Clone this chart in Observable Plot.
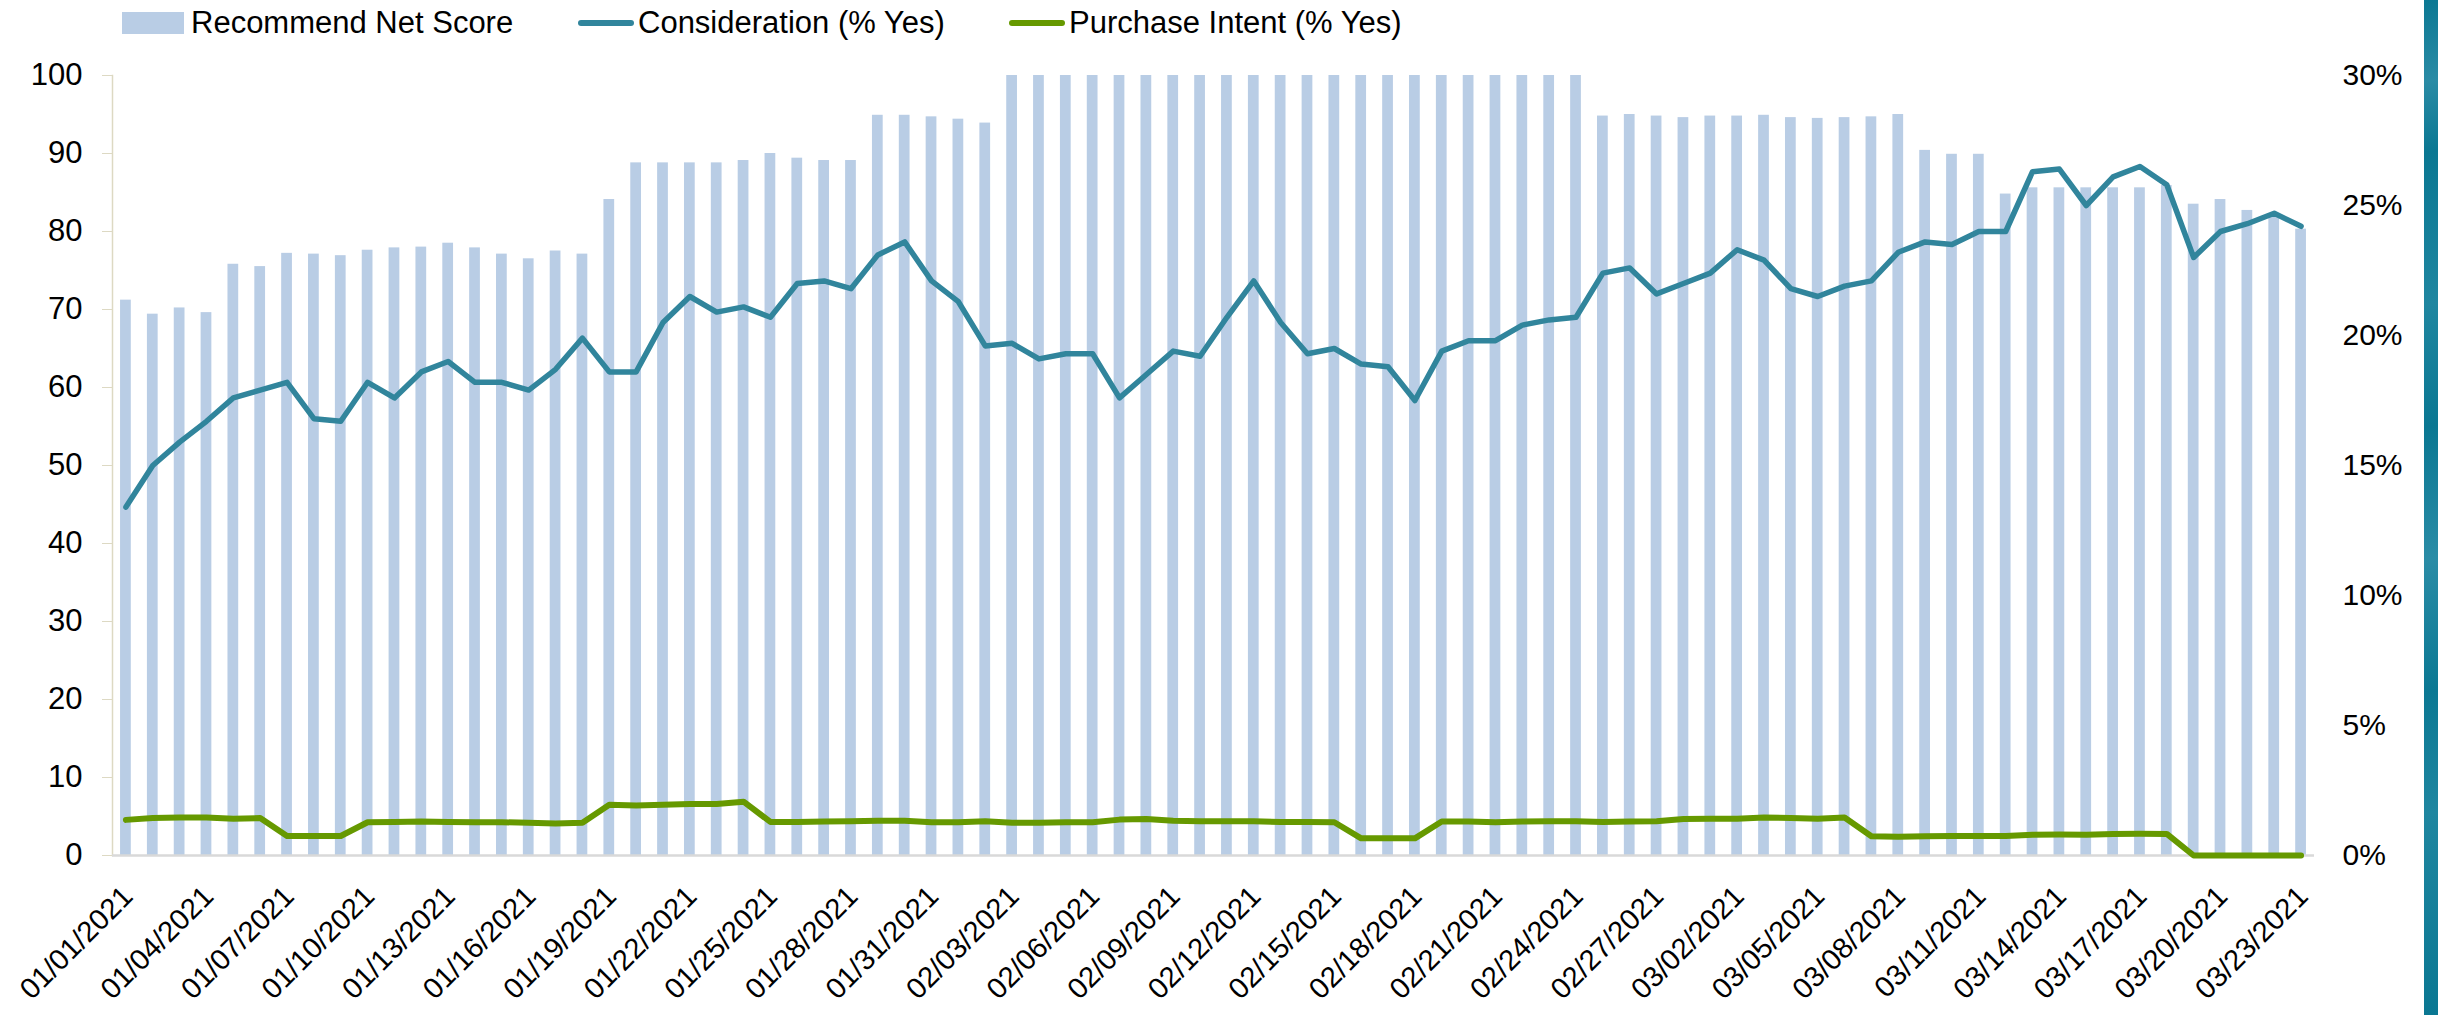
<!DOCTYPE html>
<html><head><meta charset="utf-8">
<script src="https://cdn.jsdelivr.net/npm/d3@7"></script>
<script src="https://cdn.jsdelivr.net/npm/@observablehq/plot@0.6"></script>
<style>
body{margin:0;background:#fff;font-family:"Liberation Sans",Arial,sans-serif;width:2438px;height:1015px;overflow:hidden;position:relative}
#legend{position:relative;height:45px;margin-bottom:-15px;z-index:2}
.item{position:absolute;top:0;height:45px;display:flex;align-items:center;font-size:31px;color:#000;white-space:nowrap}
.sw-bar{width:62px;height:22px;background:#B9CDE5;margin-right:7px}
.sw-line{width:56px;height:6px;border-radius:3px;margin-right:4px}
#strip{position:absolute;left:2424px;top:0;width:14px;height:1015px;
background:linear-gradient(170deg,#0b7893 0%,#2a8ba5 8%,#0a7792 15%,#1f86a0 30%,#0a7792 42%,#2a8ca6 55%,#0b7893 68%,#1f86a0 80%,#0a7792 100%)}
#chart svg{display:block}
</style></head>
<body>
<div id="legend">
  <div class="item" style="left:122px"><div class="sw-bar"></div>Recommend Net Score</div>
  <div class="item" style="left:578px"><div class="sw-line" style="background:#31859C"></div>Consideration (% Yes)</div>
  <div class="item" style="left:1009px"><div class="sw-line" style="background:#669900"></div>Purchase Intent (% Yes)</div>
</div>
<div id="chart"></div>
<div id="strip"></div>
<script>
// Dates 01/01/2021 .. 03/23/2021 (82 daily categories)
const dates = d3.utcDays(new Date(Date.UTC(2021,0,1)), new Date(Date.UTC(2021,2,24))).map(d3.utcFormat("%m/%d/%Y"));

// Recommend Net Score (left axis)
const recommend = [
  71.2, 69.4, 70.2, 69.6, 75.8, 75.5, 77.2, 77.1, 76.9, 77.6,
  77.9, 78.0, 78.5, 77.9, 77.1, 76.5, 77.5, 77.1, 84.1, 88.8,
  88.8, 88.8, 88.8, 89.1, 90.0, 89.4, 89.1, 89.1, 94.9, 94.9,
  94.7, 94.4, 93.9, 100, 100, 100, 100, 100, 100, 100,
  100, 100, 100, 100, 100, 100, 100, 100, 100, 100,
  100, 100, 100, 100, 100, 94.8, 95.0, 94.8, 94.6, 94.8,
  94.8, 94.9, 94.6, 94.5, 94.6, 94.7, 95.0, 90.4, 89.9, 89.9,
  84.8, 85.6, 85.6, 85.6, 85.6, 85.6, 85.9, 83.5, 84.1, 82.7,
  81.8, 80.3
];

// Consideration (% Yes) (right axis, percent)
const consideration = [
  13.4, 15.0, 15.9, 16.7, 17.6, 17.9, 18.2, 16.8, 16.7, 18.2,
  17.6, 18.6, 19.0, 18.2, 18.2, 17.9, 18.7, 19.9, 18.6, 18.6,
  20.5, 21.5, 20.9, 21.1, 20.7, 22.0, 22.1, 21.8, 23.1, 23.6,
  22.1, 21.3, 19.6, 19.7, 19.1, 19.3, 19.3, 17.6, 18.5, 19.4,
  19.2, 20.7, 22.1, 20.5, 19.3, 19.5, 18.9, 18.8, 17.5, 19.4,
  19.8, 19.8, 20.4, 20.6, 20.7, 22.4, 22.6, 21.6, 22.0, 22.4,
  23.3, 22.9, 21.8, 21.5, 21.9, 22.1, 23.2, 23.6, 23.5, 24.0,
  24.0, 26.3, 26.4, 25.0, 26.1, 26.5, 25.8, 23.0, 24.0, 24.3,
  24.7, 24.2
];

// Purchase Intent (% Yes) (right axis, percent)
const purchase = [
  1.37, 1.44, 1.46, 1.46, 1.41, 1.44, 0.75, 0.75, 0.75, 1.28,
  1.29, 1.31, 1.29, 1.28, 1.28, 1.26, 1.23, 1.26, 1.95, 1.92,
  1.95, 1.98, 1.98, 2.07, 1.29, 1.29, 1.31, 1.32, 1.34, 1.34,
  1.28, 1.28, 1.32, 1.26, 1.26, 1.28, 1.28, 1.38, 1.40, 1.34,
  1.32, 1.32, 1.32, 1.29, 1.29, 1.28, 0.66, 0.66, 0.66, 1.31,
  1.31, 1.28, 1.31, 1.32, 1.32, 1.29, 1.31, 1.32, 1.40, 1.41,
  1.41, 1.46, 1.44, 1.41, 1.46, 0.74, 0.72, 0.74, 0.75, 0.75,
  0.75, 0.80, 0.81, 0.80, 0.83, 0.84, 0.83, 0, 0, 0,
  0, 0
];

const leftTicks = [0, 10, 20, 30, 40, 50, 60, 70, 80, 90, 100];
const rightTicks = [0, 5, 10, 15, 20, 25, 30]; // percent
const xTicks = dates.filter((d, i) => i % 3 === 0);

const pctToLeft = p => p * 100 / 30;
const data = dates.map((d, i) => ({date: d, rec: recommend[i], con: consideration[i], pi: purchase[i]}));

const chart = Plot.plot({
  width: 2438,
  height: 985,
  marginLeft: 112,
  marginRight: 124,
  marginTop: 45,
  marginBottom: 160,
  style: {fontFamily: "Liberation Sans, Arial, sans-serif", background: "transparent", color: "black"},
  x: {type: "band", domain: dates, paddingInner: 0.6, paddingOuter: 0.3, label: null},
  y: {domain: [0, 100], label: null},
  marks: [
    Plot.barY(data, {x: "date", y: "rec", fill: "#B9CDE5"}),
    Plot.frame({anchor: "left", stroke: "#DDD9C3", strokeWidth: 1.5}),
    Plot.ruleY([0], {stroke: "#D9D9D9", strokeWidth: 2.5}),
    Plot.line(data, {x: "date", y: d => pctToLeft(d.con), stroke: "#31859C", strokeWidth: 5.5, strokeLinejoin: "round", strokeLinecap: "round"}),
    Plot.line(data, {x: "date", y: d => pctToLeft(d.pi), stroke: "#669900", strokeWidth: 6, strokeLinejoin: "round", strokeLinecap: "round"}),
    Plot.axisY({anchor: "left", ticks: leftTicks, tickSize: 10, tickPadding: 20, fontSize: 31, stroke: "#DDD9C3", fill: "black", label: null}),
    Plot.axisY({anchor: "right", ticks: rightTicks.map(pctToLeft), tickFormat: v => `${Math.round(v * 0.3)}%`, tickSize: 0, tickPadding: 28, fontSize: 30, fill: "black", label: null}),
    Plot.axisX({ticks: xTicks, tickSize: 0, tickPadding: 36, tickRotate: -45, fontSize: 29, fill: "black", dx: 2, label: null})
  ]
});
document.getElementById("chart").appendChild(chart);
</script>
</body></html>
